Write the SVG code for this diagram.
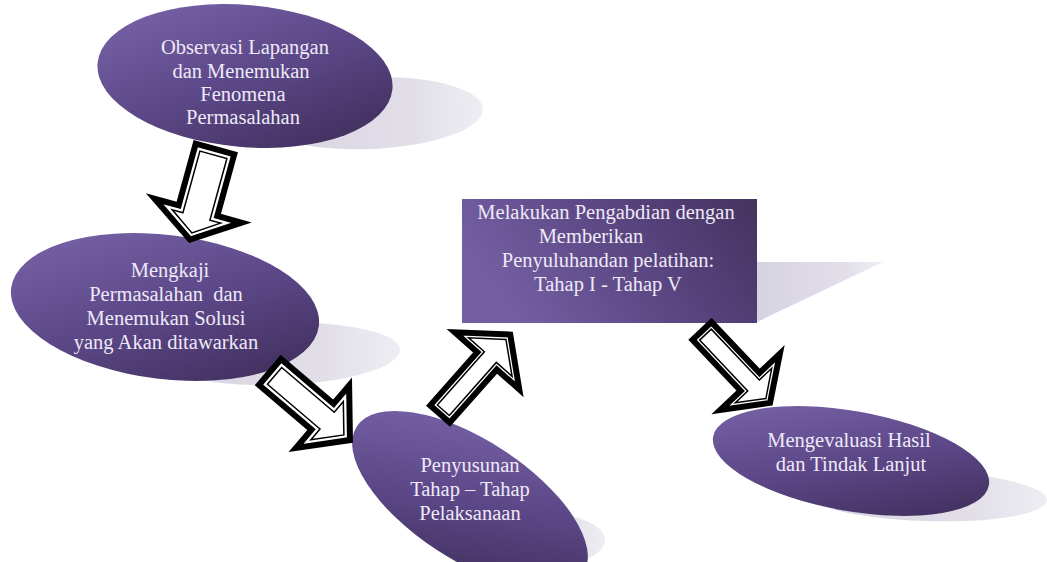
<svg xmlns="http://www.w3.org/2000/svg" width="1047" height="562" viewBox="0 0 1047 562">
<defs>
<linearGradient id="pg" x1="0" y1="0" x2="1" y2="1">
<stop offset="0" stop-color="#7c67ac"/>
<stop offset="0.5" stop-color="#5c4888"/>
<stop offset="1" stop-color="#3a2953"/>
</linearGradient>
<linearGradient id="rg" x1="0" y1="0.3" x2="1" y2="0">
<stop offset="0" stop-color="#735ea2"/>
<stop offset="0.55" stop-color="#58447f"/>
<stop offset="1" stop-color="#45335e"/>
</linearGradient>
<linearGradient id="sg" x1="0" y1="0" x2="1" y2="0">
<stop offset="0" stop-color="#d6d2e0"/>
<stop offset="0.7" stop-color="#e2dfe9"/>
<stop offset="1" stop-color="#efedf3"/>
</linearGradient>
</defs>
<style>
.node{fill:url(#pg);}
.box{fill:url(#rg);}
.shadow{fill:url(#sg);}
.lbl{font-family:"Liberation Serif","Times New Roman",serif;font-size:20.5px;fill:#efe9f8;text-anchor:middle;}
.aout{fill:#fff;stroke:#000;stroke-width:6;stroke-linejoin:miter;}
.ain{fill:none;stroke:#000;stroke-width:1.5;stroke-linejoin:miter;}
</style>
<rect width="1047" height="562" fill="#fff"/>

<g id="shadows">
<ellipse class="shadow" cx="368" cy="113" rx="115" ry="36" transform="rotate(-2 368 113)"/>
<ellipse class="shadow" cx="280" cy="354" rx="120" ry="31" transform="rotate(-2 280 354)"/>
<ellipse class="shadow" cx="535" cy="540" rx="70" ry="28"/>
<polygon class="shadow" points="757,262 883,262 757,322"/>
<ellipse class="shadow" cx="925" cy="496" rx="122" ry="25" transform="rotate(2 925 496)"/>
</g>

<g id="node-observasi">
<ellipse class="node" cx="245" cy="76" rx="148" ry="71" transform="rotate(5 245 76)"/>
<text class="lbl" x="245" y="54">Observasi Lapangan</text>
<text class="lbl" x="241" y="78">dan Menemukan</text>
<text class="lbl" x="243" y="101">Fenomena</text>
<text class="lbl" x="243" y="124">Permasalahan</text>
</g>

<g id="node-mengkaji">
<ellipse class="node" cx="165" cy="307" rx="155" ry="72" transform="rotate(7 165 307)"/>
<text class="lbl" x="170" y="277">Mengkaji</text>
<text class="lbl" x="166" y="301">Permasalahan&#160; dan</text>
<text class="lbl" x="166" y="325">Menemukan Solusi</text>
<text class="lbl" x="166" y="349">yang Akan ditawarkan</text>
</g>

<g id="node-penyusunan">
<ellipse class="node" cx="470" cy="500" rx="135" ry="60" transform="rotate(33 470 500)"/>
<text class="lbl" x="470" y="472">Penyusunan</text>
<text class="lbl" x="470" y="496">Tahap – Tahap</text>
<text class="lbl" x="470" y="520">Pelaksanaan</text>
</g>

<g id="node-pengabdian">
<rect class="box" x="462" y="199" width="295" height="124"/>
<text class="lbl" x="606" y="219">Melakukan Pengabdian dengan</text>
<text class="lbl" x="591" y="243">Memberikan</text>
<text class="lbl" x="608" y="267">Penyuluhandan pelatihan:</text>
<text class="lbl" x="608" y="291">Tahap I - Tahap V</text>
</g>

<g id="node-evaluasi">
<ellipse class="node" cx="851" cy="461" rx="140" ry="50" transform="rotate(10 851 461)"/>
<text class="lbl" x="849" y="447">Mengevaluasi Hasil</text>
<text class="lbl" x="851" y="471">dan Tindak Lanjut</text>
</g>

<g id="connectors">
<g transform="translate(215,149) rotate(105.4)">
<path class="aout" d="M0,-20 L64,-20 L64,-45 L94,0 L64,45 L64,20 L0,20 Z"/>
<path class="ain" d="M6,-14 L70,-14 L70,-25 L87,0 L70,25 L70,14 L6,14 Z"/>
</g>
<g transform="translate(270,372) rotate(40.4)">
<path class="aout" d="M0,-17 L69,-17 L69,-41 L105,0 L69,41 L69,17 L0,17 Z"/>
<path class="ain" d="M6,-11 L75,-11 L75,-25 L97,0 L75,25 L75,11 L6,11 Z"/>
</g>
<g transform="translate(440,414) rotate(-48.5)">
<path class="aout" d="M0,-13 L71,-13 L71,-43 L106,0 L71,43 L71,13 L0,13 Z"/>
<path class="ain" d="M5,-8 L76,-8 L76,-29 L99.5,0 L76,29 L76,8 L5,8 Z"/>
</g>
<g transform="translate(702,331) rotate(46.6)">
<path class="aout" d="M0,-13 L70,-13 L70,-41 L99,0 L70,41 L70,13 L0,13 Z"/>
<path class="ain" d="M5,-8 L75,-8 L75,-25 L93,0 L75,25 L75,8 L5,8 Z"/>
</g>
</g>
</svg>
